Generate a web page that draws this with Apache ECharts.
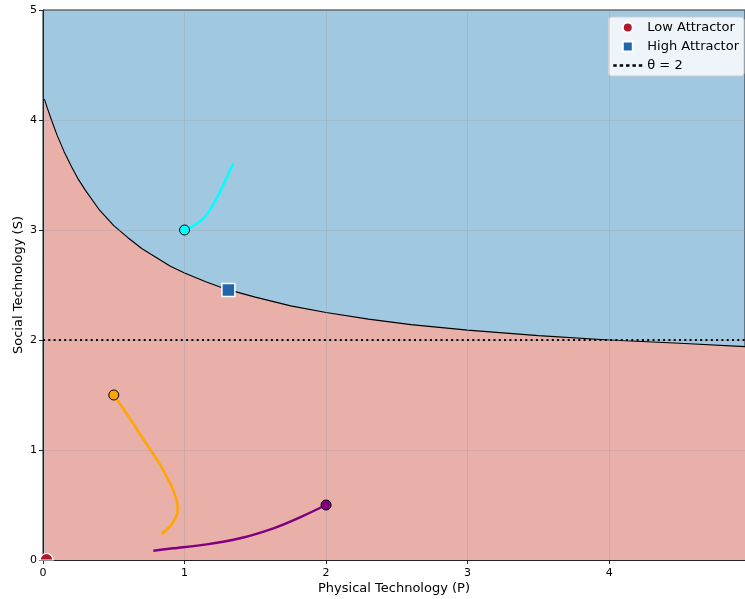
<!DOCTYPE html>
<html>
<head>
<meta charset="utf-8">
<script src="https://cdn.jsdelivr.net/npm/echarts@6/dist/echarts.min.js"></script>
<style>
  html, body { margin: 0; padding: 0; background: #fff; }
  #chart { width: 745px; height: 599px; }
</style>
</head>
<body>
<div id="chart"></div>
<script>
// Separatrix between the low and high basins: [P, S]
const boundary = [
  [0.01, 4.19], [0.03, 4.11], [0.06, 4.00], [0.10, 3.86], [0.15, 3.71], [0.20, 3.58],
  [0.25, 3.46], [0.30, 3.36], [0.40, 3.18], [0.50, 3.04], [0.60, 2.93], [0.70, 2.83],
  [0.80, 2.75], [0.90, 2.67], [1.00, 2.61], [1.15, 2.53], [1.30, 2.46], [1.50, 2.39],
  [1.75, 2.31], [2.00, 2.25], [2.30, 2.19], [2.60, 2.14], [3.00, 2.09], [3.50, 2.04],
  [4.00, 2.00], [4.50, 1.97], [4.96, 1.94]
];

// Trajectories (first point is the initial condition)
const trajCyan = [
  [1.0, 3.0], [1.03, 3.015], [1.06, 3.036], [1.10, 3.07], [1.133, 3.106], [1.17, 3.165],
  [1.204, 3.235], [1.24, 3.32], [1.274, 3.41], [1.31, 3.51], [1.345, 3.606]
];
const trajOrange = [
  [0.5, 1.5], [0.57, 1.37], [0.635, 1.245], [0.70, 1.115], [0.768, 0.985], [0.825, 0.871],
  [0.874, 0.757], [0.915, 0.651], [0.943, 0.545], [0.952, 0.48], [0.949, 0.424],
  [0.932, 0.371], [0.905, 0.318], [0.874, 0.275], [0.839, 0.236]
];
const trajPurple = [
  [2.0, 0.5], [1.816, 0.388], [1.628, 0.288], [1.392, 0.197], [1.157, 0.142],
  [0.921, 0.106], [0.78, 0.085]
];

// Fixed points and threshold
const lowAttractor = [[0.025, 0.0]];
const highAttractor = [[1.31, 2.455]];
const thetaLine = [[0, 2], [4.96, 2]];

const xTicks = [0, 1, 2, 3, 4];
const yTicks = [0, 1, 2, 3, 4, 5];

const FONT = 'DejaVu Sans';
const chart = echarts.init(document.getElementById('chart'), null, { renderer: 'canvas' });

const gridLine = { show: true, lineStyle: { color: 'rgba(150,150,150,0.28)', width: 1 } };

// the part of a circle that sits above the P axis
const upperHalfCircle = 'path://M0,10 A10,10 0 0 1 20,10 Z';
const squareIcon = 'path://M0,0H10V10H0Z';
const dottedIcon = 'path://M0,4H3V6H0Z M5.5,4H8.5V6H5.5Z M11,4H14V6H11Z M16.5,4H19.5V6H16.5Z M22,4H25V6H22Z';

function trajectory(data, color) {
  return [
    {
      type: 'line', data: data, smooth: 0.3, showSymbol: false, symbol: 'none',
      lineStyle: { color: color, width: 2.5 }, z: 10, silent: true
    },
    {
      type: 'scatter', data: [data[0]], symbol: 'circle', symbolSize: 10,
      itemStyle: { color: color, borderColor: '#000', borderWidth: 1, opacity: 1 }, z: 12, silent: true
    }
  ];
}

chart.setOption({
  animation: false,
  grid: {
    left: 43, right: 0, top: 10, bottom: 39,
    outerBoundsMode: 'none', containLabel: false,
    show: true, backgroundColor: '#a1c8e1', borderColor: '#222', borderWidth: 1
  },
  xAxis: {
    type: 'value', min: 0, max: 4.96, interval: 1, z: 5,
    name: 'Physical Technology (P)', nameLocation: 'middle', nameGap: 22, nameMoveOverlap: false,
    nameTextStyle: { fontFamily: FONT, fontSize: 13, color: '#000' },
    axisLine: { show: true, onZero: false, lineStyle: { color: '#222', width: 1 } },
    axisTick: { show: true, length: 4, lineStyle: { color: '#222' } },
    axisLabel: {
      fontFamily: FONT, fontSize: 11, color: '#000', margin: 8,
      formatter: v => (xTicks.includes(v) ? String(v) : '')
    },
    splitLine: gridLine
  },
  yAxis: {
    type: 'value', min: 0, max: 5, interval: 1, z: 5,
    name: 'Social Technology (S)', nameLocation: 'middle', nameGap: 18, nameMoveOverlap: false,
    nameTextStyle: { fontFamily: FONT, fontSize: 13, color: '#000' },
    axisLine: { show: true, onZero: false, lineStyle: { color: '#222', width: 1 } },
    axisTick: { show: true, length: 4, lineStyle: { color: '#222' } },
    axisLabel: {
      fontFamily: FONT, fontSize: 11, color: '#000', margin: 6,
      formatter: v => (yTicks.includes(v) ? String(v) : '')
    },
    splitLine: gridLine
  },
  legend: {
    orient: 'vertical', right: 1, top: 17,
    data: [
      { name: 'Low Attractor', icon: 'circle' },
      { name: 'High Attractor', icon: squareIcon },
      { name: 'θ = 2', icon: dottedIcon }
    ],
    backgroundColor: 'rgba(255,255,255,0.82)', borderColor: '#cccccc', borderWidth: 1,
    borderRadius: 3, padding: [3, 5, 3, 5], itemGap: 4, itemWidth: 29, itemHeight: 10,
    textStyle: { fontFamily: FONT, fontSize: 13, color: '#000', lineHeight: 15 }
  },
  series: [
    {
      // low-basin region below the separatrix
      type: 'line', data: boundary, smooth: false, showSymbol: false, symbol: 'none',
      lineStyle: { color: '#000', width: 1.1 },
      areaStyle: { color: '#e8b0a9', opacity: 1, origin: 'start' },
      z: 1, silent: true
    },
    {
      name: 'θ = 2', type: 'line', data: thetaLine, showSymbol: false, symbol: 'none',
      lineStyle: { color: '#000', width: 2, type: [2, 3.3] }, itemStyle: { color: '#000' },
      z: 8, silent: true
    },
    ...trajectory(trajCyan, '#00ffff'),
    ...trajectory(trajOrange, '#ffa500'),
    ...trajectory(trajPurple, '#800080'),
    {
      name: 'Low Attractor', type: 'scatter', data: lowAttractor,
      symbol: upperHalfCircle, symbolSize: [13, 6.5], symbolOffset: [0, -3.25], symbolKeepAspect: false,
      itemStyle: { color: '#b2182b', borderColor: '#fff', borderWidth: 1.2, opacity: 1 }, z: 14
    },
    {
      name: 'High Attractor', type: 'scatter', data: highAttractor, symbol: 'rect', symbolSize: 13,
      itemStyle: { color: '#2166ac', borderColor: '#fff', borderWidth: 1.5, opacity: 1 }, z: 14
    }
  ]
});
</script>
</body>
</html>
